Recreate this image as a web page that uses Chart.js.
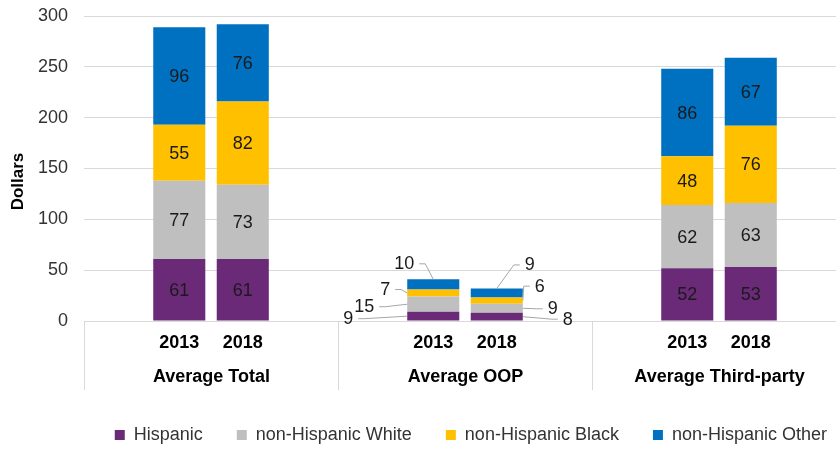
<!DOCTYPE html>
<html>
<head>
<meta charset="utf-8">
<script src="https://cdn.jsdelivr.net/npm/chart.js@4.4.1/dist/chart.umd.min.js"></script>
<style>
  body { margin: 0; background: #fff; overflow: hidden; }
  /* plot runs a little past the right edge, as in the cropped original */
  #wrap { width: 846px; height: 449px; }
</style>
</head>
<body>
<div id="wrap"><canvas id="myChart"></canvas></div>
<script>
// groups of 4 slots each, bars sit in the two middle slots
const groups = ['Average Total', 'Average OOP', 'Average Third-party']
const years = ['', '2013', '2018', '', '', '2013', '2018', '', '', '2013', '2018', '']
const hispanic = [null, 61, 61, null, null, 9, 8, null, null, 52, 53, null]
const nhWhite = [null, 77, 73, null, null, 15, 9, null, null, 62, 63, null]
const nhBlack = [null, 55, 82, null, null, 7, 6, null, null, 48, 76, null]
const nhOther = [null, 96, 76, null, null, 10, 9, null, null, 86, 67, null]
const yTicks = [0, 50, 100, 150, 200, 250, 300]
const yTitle = 'Dollars'

const FONT = '"Liberation Sans", Arial, sans-serif'

// small OOP bars get their labels outside with a leader line
// key = slot index, then dataset index -> anchor side and text offset
const callouts = {
    5: [
        { at: 'left', dx: -59, dy: 2 },
        { at: 'left', dx: -43, dy: 2 },
        { at: 'left', dx: -22, dy: -4 },
        { at: 'top', dx: -29, dy: -16 },
    ],
    6: [
        { at: 'right', dx: 45, dy: 2 },
        { at: 'right', dx: 30, dy: 0 },
        { at: 'right', dx: 17, dy: -15 },
        { at: 'top', dx: 33, dy: -24 },
    ],
}

const barLabels = {
    id: 'barLabels',
    afterDatasetsDraw(chart) {
        const ctx = chart.ctx
        ctx.save()
        ctx.font = '18px ' + FONT
        ctx.textAlign = 'center'
        ctx.textBaseline = 'middle'
        chart.data.datasets.forEach((ds, di) => {
            const meta = chart.getDatasetMeta(di)
            meta.data.forEach((bar, i) => {
                const v = ds.data[i]
                if (v == null) return
                const mid = (bar.y + bar.base) / 2
                const c = callouts[i] && callouts[i][di]
                ctx.fillStyle = '#1a1a1a'
                if (!c) {
                    ctx.fillText(v, bar.x, mid + 1)
                    return
                }
                const half = bar.width / 2
                let ax = bar.x, ay = bar.y
                if (c.at === 'left') { ax = bar.x - half; ay = mid }
                if (c.at === 'right') { ax = bar.x + half; ay = mid }
                const tx = ax + c.dx
                const ty = ay + c.dy
                const hw = ctx.measureText(v).width / 2 + 5
                const ex = tx < ax ? tx + hw : tx - hw
                const bend = tx < ax ? ex + 6 : ex - 6
                ctx.strokeStyle = '#a6a6a6'
                ctx.lineWidth = 1
                ctx.beginPath()
                ctx.moveTo(ex, ty + 0.5)
                ctx.lineTo(bend, ty + 0.5)
                ctx.lineTo(ax, ay)
                ctx.stroke()
                ctx.fillText(v, tx, ty + 1)
            })
        })
        ctx.restore()
    },
}

const groupAxis = {
    id: 'groupAxis',
    afterLayout(chart) {
        // push the legend row a little to the right, like the original
        chart.legend.left += 15
        chart.legend.right += 15
    },
    afterDraw(chart) {
        const x = chart.scales.x
        const ctx = chart.ctx
        const step = x.getPixelForValue(1) - x.getPixelForValue(0)
        ctx.save()
        ctx.strokeStyle = '#d9d9d9'
        ctx.lineWidth = 1
        ctx.font = 'bold 18px ' + FONT
        ctx.fillStyle = '#000'
        ctx.textAlign = 'center'
        ctx.textBaseline = 'middle'
        for (let g = 0; g <= groups.length; g++) {
            let left = x.getPixelForValue(g * 4) - step / 2
            left = Math.round(left) + 0.5
            ctx.beginPath()
            ctx.moveTo(left, x.top)
            ctx.lineTo(left, x.top + 69)
            ctx.stroke()
            if (g < groups.length) ctx.fillText(groups[g], left + step * 2, x.top + 56)
        }
        // axis title, sits a bit below the middle of the plot like the original
        const area = chart.chartArea
        ctx.font = 'bold 17px ' + FONT
        ctx.translate(18, (area.top + area.bottom) / 2 + 13)
        ctx.rotate(-Math.PI / 2)
        ctx.fillText(yTitle, 0, 0)
        ctx.restore()
    },
}

const ctx = document.getElementById('myChart').getContext('2d')
new Chart(ctx, {
    type: 'bar',
    data: {
        labels: years,
        datasets: [
            { label: 'Hispanic', data: hispanic, backgroundColor: '#6a2a78' },
            { label: 'non-Hispanic White', data: nhWhite, backgroundColor: '#bfbfbf' },
            { label: 'non-Hispanic Black', data: nhBlack, backgroundColor: '#ffc000' },
            { label: 'non-Hispanic Other', data: nhOther, backgroundColor: '#0070c0' },
        ],
    },
    options: {
        responsive: true,
        maintainAspectRatio: false,
        animation: false,
        categoryPercentage: 1,
        barPercentage: 0.82,
        layout: { padding: { left: 22, top: 0, right: 0, bottom: 0 } },
        plugins: {
            tooltip: { enabled: false },
            legend: {
                position: 'bottom',
                align: 'end',
                maxHeight: 57,
                labels: {
                    boxWidth: 10,
                    boxHeight: 10,
                    padding: 34,
                    color: '#333',
                    font: { family: FONT, size: 18 },
                },
            },
        },
        scales: {
            x: {
                stacked: true,
                grid: { display: false, drawTicks: false },
                border: { display: false },
                ticks: {
                    color: '#000',
                    padding: 11,
                    maxRotation: 0,
                    autoSkip: false,
                    font: { family: FONT, size: 18, weight: 'bold' },
                },
                afterFit(scale) {
                    scale.height = 71
                },
            },
            y: {
                stacked: true,
                min: 0,
                max: 300,
                afterBuildTicks(scale) {
                    scale.ticks = yTicks.map((v) => ({ value: v }))
                },
                afterFit(scale) {
                    scale.paddingTop = 16
                },
                grid: { color: '#d9d9d9', drawTicks: false },
                border: { display: false },
                ticks: {
                    color: '#333',
                    padding: 16,
                    font: { family: FONT, size: 18 },
                },
            },
        },
    },
    plugins: [barLabels, groupAxis],
})
</script>
</body>
</html>
